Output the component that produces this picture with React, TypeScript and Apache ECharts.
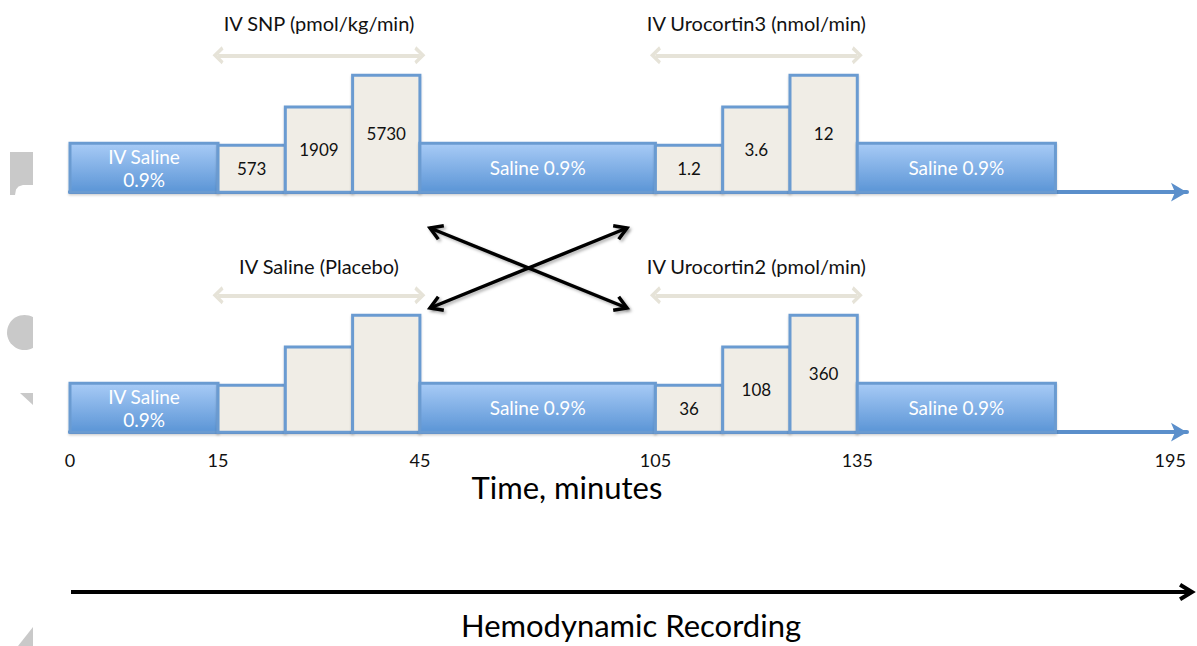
import React, { useEffect, useRef } from "react";
import * as echarts from "echarts";

// Schematic (not-to-scale) time axis: minute ticks and where they sit on the drawing
const tickMinutes = [0, 15, 45, 105, 135, 195];
const tickPositions = [0, 2.2, 5.2, 8.7, 11.7, 16.35];

// Infusion segments (minutes)
const segStart = [0, 15, 25, 35, 45, 105, 115, 125, 135];
const segEnd = [15, 25, 35, 45, 105, 115, 125, 135, 173];
const segKind = ["saline", "dose", "dose", "dose", "saline", "dose", "dose", "dose", "saline"];
const segLevel = [1, 0.96, 1.74, 2.39, 1, 0.96, 1.74, 2.39, 1];
const topLabels = ["IV Saline\n0.9%", "573", "1909", "5730", "Saline 0.9%", "1.2", "3.6", "12", "Saline 0.9%"];
const bottomLabels = ["IV Saline\n0.9%", "", "", "", "Saline 0.9%", "36", "108", "360", "Saline 0.9%"];

// Infusion periods
const infusionStart = [15, 105];
const infusionEnd = [45, 135];
const topInfusionNames = ["IV SNP (pmol/kg/min)", "IV Urocortin3 (nmol/min)"];
const bottomInfusionNames = ["IV Saline (Placebo)", "IV Urocortin2 (pmol/min)"];
const infusionArrowLevel = 2.8;

const FONT = "Lato, 'Open Sans', sans-serif";
const BLUE_BORDER = "#6b9bd1";
const AXIS_BLUE = "#5b8fcb";

function toPos(m: number): number {
  for (let i = 1; i < tickMinutes.length; i++) {
    if (m <= tickMinutes[i]) {
      const a = tickMinutes[i - 1], b = tickMinutes[i];
      return tickPositions[i - 1] + ((m - a) / (b - a)) * (tickPositions[i] - tickPositions[i - 1]);
    }
  }
  return tickPositions[tickPositions.length - 1];
}

const CHEVRON = "path://M0,10 L10,0 L20,10 L16.5,12 L10,5.5 L3.5,12 Z";

function makeSeries(idx: number, labels: string[], names: string[], labelDistance: number) {
  const data = segStart.map((s, i) => [toPos(s), toPos(segEnd[i]), segLevel[i]]);
  return {
    type: "custom",
    xAxisIndex: idx,
    yAxisIndex: idx,
    clip: false,
    data,
    renderItem: (params: any, api: any) => {
      const i = params.dataIndex;
      const p0 = api.coord([api.value(0), api.value(2)]);
      const p1 = api.coord([api.value(1), 0]);
      const saline = segKind[i] === "saline";
      return {
        type: "rect",
        shape: { x: p0[0], y: p0[1], width: p1[0] - p0[0], height: p1[1] - p0[1] },
        style: {
          fill: saline
            ? new echarts.graphic.LinearGradient(0, 0, 0, 1, [
                { offset: 0, color: "#a8cbf6" },
                { offset: 1, color: "#5b95d6" },
              ])
            : "#f0ede6",
          stroke: BLUE_BORDER,
          lineWidth: 3,
          shadowBlur: 2,
          shadowOffsetY: 1.5,
          shadowColor: "rgba(0,0,0,0.2)",
        },
        textContent: {
          style: {
            text: labels[i],
            fill: saline ? "#ffffff" : "#111111",
            fontSize: saline ? 19 : 17,
            fontFamily: FONT,
            lineHeight: 23,
            align: "center",
          },
        },
        textConfig: { position: "inside" },
      };
    },
    markLine: {
      silent: true,
      symbol: [CHEVRON, CHEVRON],
      symbolSize: [18, 11],
      lineStyle: { color: "#e6e3d8", width: 4, type: "solid" },
      label: {
        show: true,
        position: "middle",
        formatter: (p: any) => p.name,
        color: "#111111",
        fontSize: 20,
        fontFamily: FONT,
        distance: labelDistance,
      },
      data: infusionStart.map((s, i) => [
        { name: names[i], coord: [toPos(s), infusionArrowLevel] },
        { coord: [toPos(infusionEnd[i]), infusionArrowLevel] },
      ]),
    },
  };
}

function arrowGraphic(x1: number, y1: number, x2: number, y2: number, color: string, width: number, both: boolean, shadow: boolean) {
  const sh = shadow
    ? { shadowBlur: 3, shadowOffsetX: 2, shadowOffsetY: 2, shadowColor: "rgba(0,0,0,0.3)" }
    : {};
  const mk = (tx: number, ty: number, fx: number, fy: number) => {
    const ang = Math.atan2(ty - fy, tx - fx);
    const len = 14, spread = 0.55;
    return {
      type: "polyline",
      shape: {
        points: [
          [tx - len * Math.cos(ang - spread), ty - len * Math.sin(ang - spread)],
          [tx, ty],
          [tx - len * Math.cos(ang + spread), ty - len * Math.sin(ang + spread)],
        ],
      },
      style: { stroke: color, lineWidth: width, fill: "none", lineJoin: "miter", ...sh },
    };
  };
  const heads: any[] = [mk(x2, y2, x1, y1)];
  if (both) heads.push(mk(x1, y1, x2, y2));
  return [
    { type: "line", shape: { x1, y1, x2, y2 }, style: { stroke: color, lineWidth: width, ...sh } },
    ...heads,
  ];
}

function axisPair(idx: number, showLabels: boolean) {
  const x = {
    type: "value",
    gridIndex: idx,
    min: 0,
    max: 16.6,
    axisLine: {
      show: true,
      symbol: ["none", "arrow"],
      symbolSize: [14, 16],
      lineStyle: { color: AXIS_BLUE, width: 4 },
    },
    axisTick: { show: false },
    splitLine: { show: false },
    axisLabel: {
      show: showLabels,
      customValues: tickPositions,
      formatter: (v: number) => {
        const k = tickPositions.findIndex((p) => Math.abs(p - v) < 1e-6);
        return k >= 0 ? String(tickMinutes[k]) : "";
      },
      color: "#111111",
      fontSize: 18,
      fontFamily: FONT,
      margin: 13,
    },
  };
  const y = {
    type: "value",
    gridIndex: idx,
    min: -0.12,
    max: 2.88,
    show: false,
  };
  return { x, y };
}

export default function App() {
  const ref = useRef<HTMLDivElement>(null);
  useEffect(() => {
    if (!ref.current) return;
    const chart = echarts.init(ref.current, null, { renderer: "svg" });
    const a0 = axisPair(0, false);
    const a1 = axisPair(1, true);
    const gray = "#c9c9c9";
    chart.setOption({
      animation: false,
      backgroundColor: "#ffffff",
      grid: [
        { left: 70, right: 10, top: 51.4, height: 146.6 },
        { left: 70, right: 10, top: 291.4, height: 146.6 },
      ],
      xAxis: [a0.x, a1.x],
      yAxis: [a0.y, a1.y],
      series: [
        makeSeries(0, topLabels, topInfusionNames, 22),
        makeSeries(1, bottomLabels, bottomInfusionNames, 19),
      ],
      graphic: [
        // faint background fragments at the left edge
        { type: "polygon", shape: { points: [[10, 152], [33, 152], [33, 185], [23, 185], [18.5, 186.5], [16, 189.5], [15, 195], [10, 195]] }, style: { fill: gray } },
        { type: "circle", shape: { cx: 24.5, cy: 332.5, r: 17.5 }, style: { fill: gray } },
        { type: "rect", shape: { x: 33, y: 312, width: 14, height: 42 }, style: { fill: "#ffffff" } },
        { type: "polygon", shape: { points: [[20, 393], [33, 393], [33, 405]] }, style: { fill: gray } },
        { type: "polygon", shape: { points: [[33, 627], [33, 646], [18, 646]] }, style: { fill: gray } },
        // crossover arrows
        ...arrowGraphic(430, 228, 627, 308, "#000000", 3.5, true, true),
        ...arrowGraphic(430, 308, 627, 228, "#000000", 3.5, true, true),
        // axis title
        {
          type: "text",
          x: 567,
          y: 487,
          style: { text: "Time, minutes", fontSize: 31, fontFamily: FONT, fill: "#000000", align: "center", verticalAlign: "middle" },
        },
        // recording arrow
        ...arrowGraphic(71, 592, 1192, 592, "#000000", 4, false, false),
        {
          type: "text",
          x: 631,
          y: 625,
          style: { text: "Hemodynamic Recording", fontSize: 31, fontFamily: FONT, fill: "#000000", align: "center", verticalAlign: "middle" },
        },
      ],
    });
    return () => chart.dispose();
  }, []);
  return <div ref={ref} style={{ position: "fixed", left: 0, top: 0, width: 1197, height: 646 }} />;
}
